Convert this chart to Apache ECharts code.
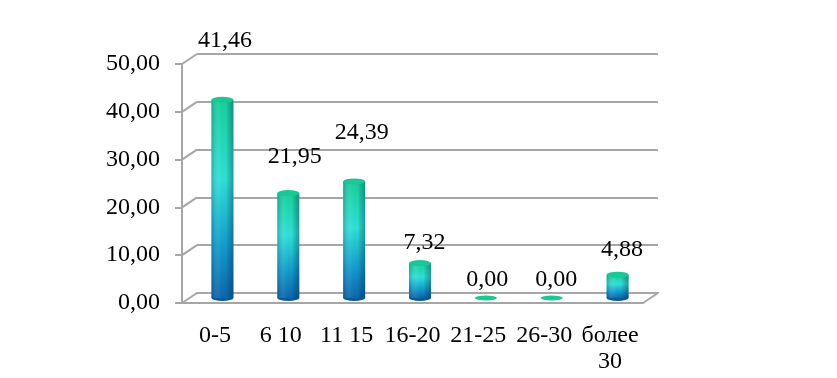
<!DOCTYPE html>
<html>
<head>
<meta charset="utf-8">
<script src="https://cdn.jsdelivr.net/npm/echarts@6/dist/echarts.min.js"></script>
<title>Chart</title>
</head>
<body style="margin:0;background:#fff">
<div id="container" style="width:837px;height:378px"></div>
<script type="text/javascript">

// data
let categories = ['0-5', '6 10', '11 15', '16-20', '21-25', '26-30', 'более\n30'];
let values = [41.46, 21.95, 24.39, 7.32, 0.00, 0.00, 4.88];
let yTicks = [0, 10, 20, 30, 40, 50];

// where excel dropped each value label, relative to the bar top (px)
let labelShift = [[10, -64], [14, -41], [15, -54], [12, -25], [9, -23], [12, -23], [12, -30]];

const depth = [15, -10];      // back wall offset
const gridColor = '#a6a6a6';
const font = '"Liberation Serif", "DejaVu Serif", serif';
const fontSize = 24;
const fmt = v => v.toFixed(2).replace('.', ',');

let dom = document.getElementById('container');
let chart = echarts.init(dom);

function renderBar(params, api) {
    let i = api.value(0), v = api.value(1);
    let top = api.coord([i, v]);
    let base = api.coord([i, 0]);
    let cx = top[0] + depth[0] / 2;
    let ty = top[1] + depth[1] / 2;
    let by = base[1] + depth[1] / 2;
    let w = 22, rx = 11, ry = 3;
    let children = [];
    if (by - ty > 0.5) {
        children.push({
            type: 'circle', shape: {cx: cx, cy: by, r: rx}, scaleY: ry / rx, originX: cx, originY: by,
            style: {fill: '#0a5a9a'}
        });
        children.push({
            type: 'rect', shape: {x: cx - w / 2, y: ty, width: w, height: by - ty},
            style: {fill: new echarts.graphic.LinearGradient(0, 0, 0, 1, [
                {offset: 0, color: '#16d09a'},
                {offset: 0.4, color: '#2ee0d6'},
                {offset: 0.75, color: '#1199cc'},
                {offset: 1, color: '#0a66aa'}
            ])}
        });
        children.push({
            type: 'rect', shape: {x: cx - w / 2, y: ty, width: w, height: by - ty},
            style: {fill: new echarts.graphic.LinearGradient(0, 0, 1, 0, [
                {offset: 0, color: 'rgba(0,40,90,0.25)'},
                {offset: 0.35, color: 'rgba(255,255,255,0.05)'},
                {offset: 0.65, color: 'rgba(0,0,0,0)'},
                {offset: 1, color: 'rgba(0,30,70,0.35)'}
            ])}
        });
    }
    children.push({
        type: 'circle', shape: {cx: cx, cy: ty, r: rx}, scaleY: (by - ty > 0.5 ? ry : 2.5) / rx,
        originX: cx, originY: ty,
        style: {fill: '#19c894'}
    });
    let sh = labelShift[i];
    children.push({
        type: 'text',
        style: {
            x: top[0] + sh[0], y: top[1] + sh[1], text: fmt(v),
            align: 'center', verticalAlign: 'middle',
            font: fontSize + 'px ' + font, fill: '#000'
        }
    });
    return {type: 'group', children: children};
}

function renderDiag(params, api) {
    let v = api.value(1);
    let p = api.coord([0, v]);
    let cs = params.coordSys;
    let lines = [{
        type: 'line',
        shape: {x1: cs.x, y1: p[1], x2: cs.x + depth[0], y2: p[1] + depth[1]},
        style: {stroke: gridColor, lineWidth: 2}
    }];
    if (v === 0) {
        let r = cs.x + cs.width;
        lines.push({
            type: 'line',
            shape: {x1: r, y1: p[1], x2: r + depth[0], y2: p[1] + depth[1]},
            style: {stroke: gridColor, lineWidth: 2}
        });
    }
    return {type: 'group', children: lines};
}

chart.setOption({
    animation: false,
    grid: [
        {left: 182, top: 64, width: 461, height: 239},
        {left: 182 + depth[0], top: 64 + depth[1], width: 461, height: 239}
    ],
    xAxis: [
        {
            type: 'category', gridIndex: 0, data: categories,
            axisLine: {lineStyle: {color: gridColor, width: 2}},
            axisTick: {length: 9, lineStyle: {color: gridColor, width: 2}},
            axisLabel: {color: '#000', fontFamily: font, fontSize: fontSize, lineHeight: 26, margin: 20, interval: 0}
        },
        {
            type: 'category', gridIndex: 1, data: categories,
            axisLine: {show: true, lineStyle: {color: gridColor, width: 2}},
            axisTick: {show: false}, axisLabel: {show: false}
        }
    ],
    yAxis: [
        {
            type: 'value', gridIndex: 0, min: 0, max: 50, interval: 10,
            axisLine: {show: true, lineStyle: {color: gridColor, width: 2}},
            axisTick: {show: true, length: 7, lineStyle: {color: gridColor, width: 2}},
            splitLine: {show: false},
            axisLabel: {color: '#000', fontFamily: font, fontSize: fontSize, margin: 22, formatter: fmt}
        },
        {
            type: 'value', gridIndex: 1, min: 0, max: 50, interval: 10,
            axisLine: {show: false}, axisTick: {show: false}, axisLabel: {show: false},
            splitLine: {show: true, lineStyle: {color: gridColor, width: 2}}
        }
    ],
    series: [
        {
            type: 'custom', xAxisIndex: 0, yAxisIndex: 0,
            data: yTicks.map(t => [0, t]),
            renderItem: renderDiag, silent: true, z: 1
        },
        {
            type: 'custom', xAxisIndex: 0, yAxisIndex: 0,
            data: values.map((v, i) => [i, v]),
            renderItem: renderBar, z: 3
        }
    ]
});

</script>
</body>
</html>
